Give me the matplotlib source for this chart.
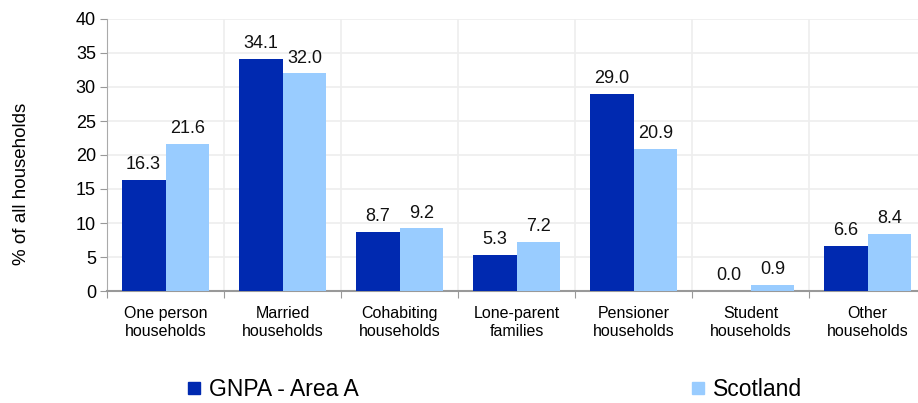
import numpy as np
import matplotlib.pyplot as plt
from matplotlib.lines import Line2D

plt.rcParams['font.family'] = ['Liberation Sans', 'DejaVu Sans']

categories = ["One person\nhouseholds", "Married\nhouseholds", "Cohabiting\nhouseholds",
              "Lone-parent\nfamilies", "Pensioner\nhouseholds", "Student\nhouseholds",
              "Other\nhouseholds"]
area_a = [16.3, 34.1, 8.7, 5.3, 29.0, 0.0, 6.6]
scotland = [21.6, 32.0, 9.2, 7.2, 20.9, 0.9, 8.4]
series_names = ["GNPA - Area A", "Scotland"]
dark_blue = "#0029B0"
light_blue = "#99CCFF"

fig = plt.figure(figsize=(9.18, 4.03), dpi=100)
ax = fig.add_axes([107 / 918, 112 / 403, 819 / 918, 272 / 403])

x = np.arange(len(categories))
w = 0.375
b1 = ax.bar(x - w / 2, area_a, w, color=dark_blue, zorder=3)
b2 = ax.bar(x + w / 2, scotland, w, color=light_blue, zorder=3)

# value labels above each bar
for bars, vals in ((b1, area_a), (b2, scotland)):
    for r, v in zip(bars, vals):
        ax.text(r.get_x() + r.get_width() / 2, v + 1.0, f"{v:.1f}",
                ha='center', va='bottom', fontsize=13, color='#111111')

ax.set_xlim(-0.5, len(categories) - 0.5)
ax.set_ylim(0, 40)
ax.set_yticks(range(0, 41, 5))
ax.set_xticks(np.arange(len(categories) + 1) - 0.5)
ax.set_xticklabels([])
ax.set_xticks(x, categories, minor=True)
ax.tick_params(axis='x', which='minor', length=0, pad=11, labelsize=11.5)
ax.tick_params(axis='x', which='major', length=5, color='#999999')
ax.tick_params(axis='y', length=5, color='#999999', labelsize=13, pad=3)

ax.grid(True, which='major', color='#EEEEEE', linewidth=1.2, zorder=0)
for s in ('top', 'right'):
    ax.spines[s].set_visible(False)
ax.spines['left'].set_color('#AAAAAA')
ax.spines['bottom'].set_color('#999999')
ax.spines['bottom'].set_linewidth(1.5)

ax.set_ylabel("% of all households", fontsize=13.5)
ax.yaxis.set_label_coords(-0.094, 0.393)

handles = [Line2D([], [], marker='s', linestyle='none', markersize=8, color=c)
           for c in (dark_blue, light_blue)]
fig.legend(handles, series_names, loc='center left', bbox_to_anchor=(164 / 918, 13 / 403),
           ncol=2, frameon=False, fontsize=16.5, handletextpad=0.25,
           columnspacing=14.4, handlelength=0.8)

fig.savefig("out.png", dpi=100)
